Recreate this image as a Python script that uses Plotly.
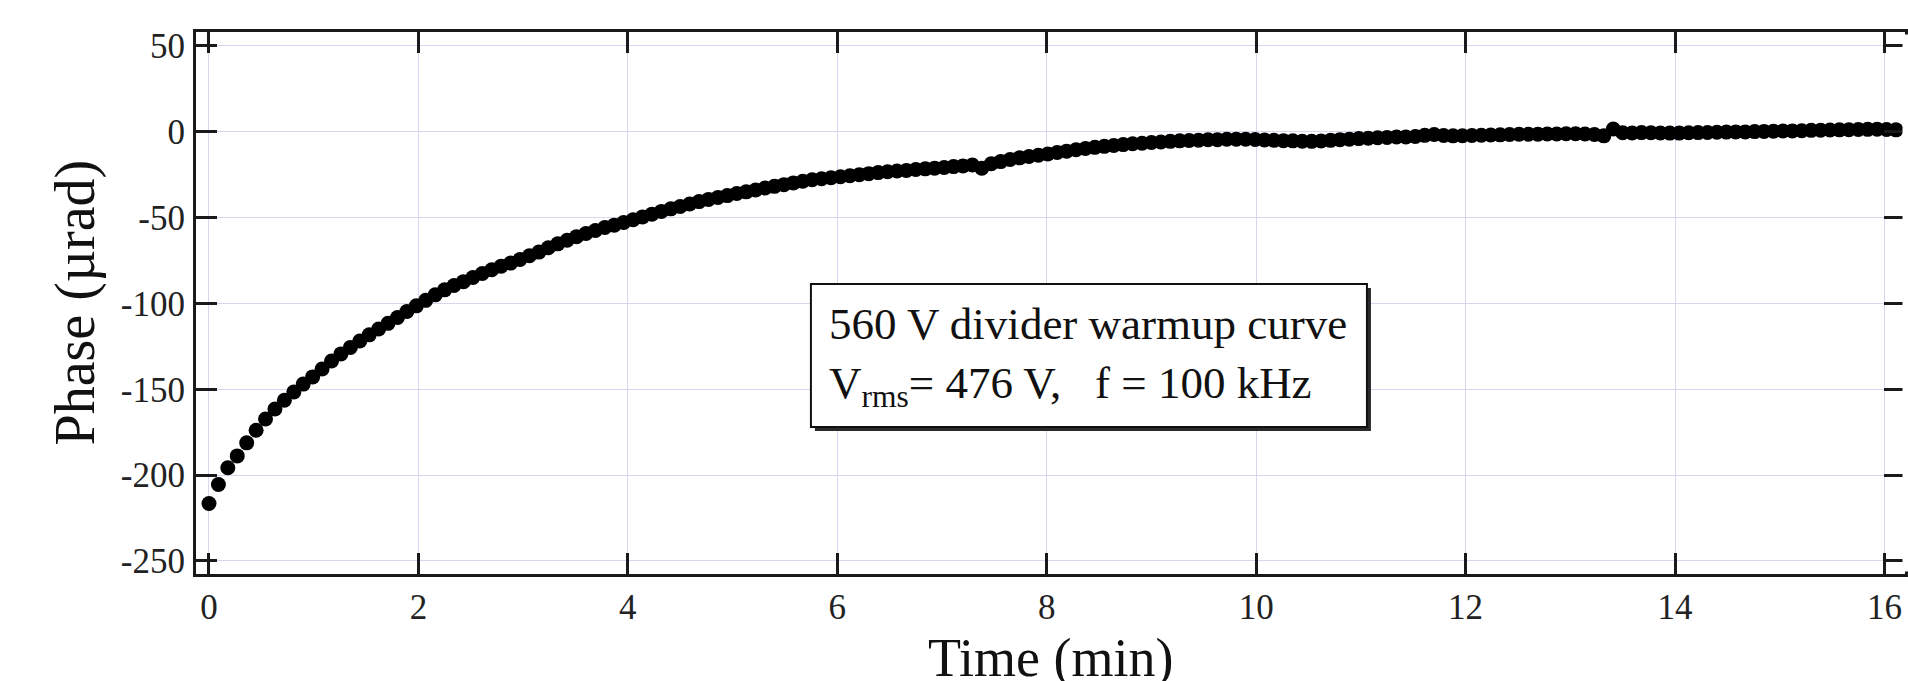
import plotly.graph_objects as go

# ---------------- data ----------------
time_min = [
    0.00, 0.09, 0.18, 0.27, 0.36, 0.45, 0.54, 0.63, 0.72, 0.81,
    0.90, 0.99, 1.08, 1.17, 1.26, 1.35, 1.44, 1.53, 1.62, 1.71,
    1.80, 1.89, 1.98, 2.07, 2.16, 2.25, 2.34, 2.43, 2.52, 2.61,
    2.70, 2.79, 2.88, 2.97, 3.06, 3.15, 3.24, 3.33, 3.42, 3.51,
    3.60, 3.69, 3.78, 3.87, 3.96, 4.05, 4.14, 4.23, 4.32, 4.41,
    4.50, 4.59, 4.68, 4.77, 4.86, 4.95, 5.04, 5.13, 5.22, 5.31,
    5.40, 5.49, 5.58, 5.67, 5.76, 5.85, 5.94, 6.03, 6.12, 6.21,
    6.30, 6.39, 6.48, 6.57, 6.66, 6.75, 6.84, 6.93, 7.02, 7.11,
    7.20, 7.29, 7.38, 7.47, 7.56, 7.65, 7.74, 7.83, 7.92, 8.01,
    8.10, 8.19, 8.28, 8.37, 8.46, 8.55, 8.64, 8.73, 8.82, 8.91,
    9.00, 9.09, 9.18, 9.27, 9.36, 9.45, 9.54, 9.63, 9.72, 9.81,
    9.90, 9.99, 10.08, 10.17, 10.26, 10.35, 10.44, 10.53, 10.62, 10.71,
    10.80, 10.89, 10.98, 11.07, 11.16, 11.25, 11.34, 11.43, 11.52, 11.61,
    11.70, 11.79, 11.88, 11.97, 12.06, 12.15, 12.24, 12.33, 12.42, 12.51,
    12.60, 12.69, 12.78, 12.87, 12.96, 13.05, 13.14, 13.23, 13.32, 13.41,
    13.50, 13.59, 13.68, 13.77, 13.86, 13.95, 14.04, 14.13, 14.22, 14.31,
    14.40, 14.49, 14.58, 14.67, 14.76, 14.85, 14.94, 15.03, 15.12, 15.21,
    15.30, 15.39, 15.48, 15.57, 15.66, 15.75, 15.84, 15.93, 16.02, 16.11,
]

phase_urad = [
    -216.5, -205.5, -195.7, -188.8, -181.2, -173.9, -167.3, -161.5, -156.4, -151.6,
    -147.0, -142.8, -138.2, -133.5, -129.4, -125.6, -121.9, -118.3, -114.9, -111.6,
    -108.2, -104.7, -101.4, -98.2, -95.0, -92.1, -89.6, -87.3, -84.9, -82.6,
    -80.4, -78.3, -76.5, -74.4, -72.2, -70.1, -67.6, -65.3, -63.2, -61.1,
    -59.3, -57.5, -55.8, -54.4, -52.9, -51.3, -49.6, -48.0, -46.4, -44.9,
    -43.5, -42.1, -40.7, -39.4, -38.3, -37.2, -36.0, -35.0, -33.9, -32.8,
    -31.8, -30.8, -29.8, -28.8, -28.0, -27.4, -26.8, -26.2, -25.6, -25.0,
    -24.4, -23.8, -23.3, -22.9, -22.5, -22.0, -21.6, -21.2, -20.8, -20.3,
    -19.9, -19.4, -21.3, -18.6, -17.4, -16.2, -15.2, -14.4, -13.7, -13.0,
    -12.1, -11.3, -10.5, -9.8, -9.1, -8.5, -8.0, -7.5, -7.0, -6.7,
    -6.3, -6.0, -5.6, -5.3, -5.1, -4.9, -4.7, -4.6, -4.4, -4.3,
    -4.4, -4.5, -4.8, -5.0, -5.2, -5.3, -5.5, -5.6, -5.4, -5.0,
    -4.6, -4.3, -4.0, -3.8, -3.5, -3.3, -3.1, -3.0, -2.8, -2.1,
    -1.6, -2.2, -2.4, -2.3, -2.2, -2.0, -1.9, -1.8, -1.6, -1.5,
    -1.5, -1.4, -1.3, -1.3, -1.2, -1.2, -1.3, -1.6, -2.4, 1.6,
    -0.6, -0.7, -0.5, -0.6, -0.7, -0.8, -0.8, -0.6, -0.5, -0.4,
    -0.3, -0.2, -0.1, -0.1, 0.1, 0.2, 0.3, 0.4, 0.5, 0.6,
    0.8, 0.9, 1.0, 1.1, 1.2, 1.3, 1.4, 1.5, 1.3, 1.1,
]

x_tick_vals = [0, 2, 4, 6, 8, 10, 12, 14, 16]
x_tick_text = ["0", "2", "4", "6", "8", "10", "12", "14", "16"]
y_tick_vals = [-250, -200, -150, -100, -50, 0, 50]
y_tick_text = ["-250", "-200", "-150", "-100", "-50", "0", "50"]

x_title = "Time (min)"
y_title = "Phase (µrad)"
note_lines = ["560 V divider warmup curve",
              "V<sub>rms</sub>= 476 V,\u00a0\u00a0\u00a0f = 100 kHz"]

# ---------------- layout geometry ----------------
W, H = 1908, 681
ML, MR, MT, MB = 196, 0, 32, 107
XR = [-0.124, 16.196]
YR = [-257.6, 58.1]
PW, PH = W - ML - MR, H - MT - MB


def px2x(px):
    return XR[0] + (px - ML) / PW * (XR[1] - XR[0])


def py2y(py):
    return YR[1] - (py - MT) / PH * (YR[1] - YR[0])


SERIF = "Liberation Serif, Times New Roman, serif"

fig = go.Figure()
fig.add_trace(go.Scatter(
    x=time_min, y=phase_urad, mode="markers",
    marker=dict(size=15, color="black", line=dict(width=0)),
    showlegend=False, hoverinfo="x+y",
))

axis_common = dict(
    showline=True, linecolor="#1a1a1a", linewidth=3, mirror="ticks",
    ticks="inside", ticklen=21, tickwidth=2.5, tickcolor="#1a1a1a",
    showgrid=True, gridcolor="#d6d6ee", gridwidth=1, zeroline=False,
    tickfont=dict(family=SERIF, size=35, color="#222222"),
)

fig.update_xaxes(range=XR, tickmode="array", tickvals=x_tick_vals,
                 ticktext=x_tick_text, ticklabelstandoff=0, **axis_common)
fig.update_yaxes(range=YR, tickmode="array", tickvals=y_tick_vals,
                 ticktext=y_tick_text, ticklabelstandoff=1, **axis_common)

# the right frame edge lies just outside the picture in the reference: hide it
fig.add_shape(type="rect", xref="paper", yref="paper", layer="above",
              x0=(W - 2.5 - ML) / PW, x1=1.01, y0=2.5 / PH, y1=1 - 2.5 / PH,
              fillcolor="white", line=dict(width=0))

# text box with drop shadow
bx0, bx1, by0, by1 = 812, 1369, 284, 427
sh = 4
fig.add_shape(type="rect", xref="x", yref="y", layer="above",
              x0=px2x(bx0 + sh), x1=px2x(bx1 + sh), y0=py2y(by0 + sh), y1=py2y(by1 + sh),
              fillcolor="#2a2a2a", line=dict(width=0))
fig.add_shape(type="rect", xref="x", yref="y", layer="above",
              x0=px2x(bx0), x1=px2x(bx1), y0=py2y(by0), y1=py2y(by1),
              fillcolor="white", line=dict(color="#111111", width=2))

fig.add_annotation(x=px2x(828), y=py2y(356), xref="x", yref="y",
                   xanchor="left", yanchor="middle", align="left",
                   text="<br>".join(note_lines), showarrow=False,
                   font=dict(family=SERIF, size=45, color="#111111"))

# axis titles
fig.add_annotation(x=0.5, y=0, xref="paper", yref="paper", xanchor="center",
                   yanchor="top", yshift=-52, text=x_title, showarrow=False,
                   font=dict(family=SERIF, size=54, color="#111111"))
fig.add_annotation(x=0, y=0.5, xref="paper", yref="paper", xanchor="right",
                   yanchor="middle", xshift=-88, textangle=-90, text=y_title,
                   showarrow=False,
                   font=dict(family=SERIF, size=56, color="#111111"))

fig.update_layout(
    width=W, height=H,
    margin=dict(l=ML, r=MR, t=MT, b=MB, pad=0),
    paper_bgcolor="white", plot_bgcolor="white",
    showlegend=False,
)

fig.write_html(
    "out.html",
    config={"displayModeBar": False},
    post_script="document.body.style.margin='0';document.body.style.padding='0';"
                "document.body.style.overflow='hidden';",
)
